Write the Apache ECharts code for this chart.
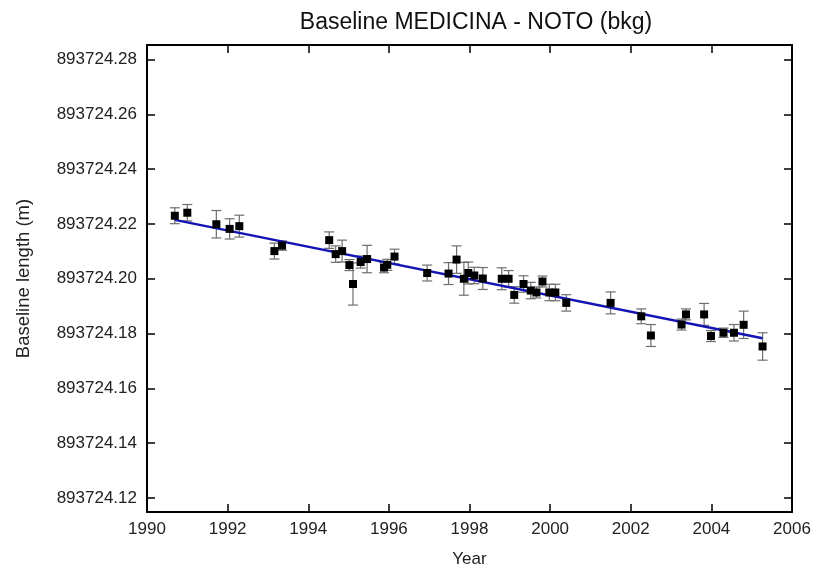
<!DOCTYPE html>
<html>
<head>
<meta charset="utf-8">
<script src="https://cdn.jsdelivr.net/npm/echarts@6/dist/echarts.min.js"></script>
<style>html,body{margin:0;padding:0;background:#fff}#c{width:813px;height:567px}</style>
</head>
<body>
<div id="c"></div>
<script>
var years = [1990.69, 1991.00, 1991.72, 1992.05, 1992.29, 1993.16, 1993.35, 1994.52, 1994.68, 1994.84, 1995.02, 1995.11, 1995.30, 1995.46, 1995.88, 1995.96, 1996.14, 1996.95, 1997.48, 1997.68, 1997.86, 1997.97, 1998.12, 1998.33, 1998.80, 1998.97, 1999.11, 1999.34, 1999.52, 1999.66, 1999.81, 1999.98, 2000.13, 2000.40, 2001.50, 2002.26, 2002.50, 2003.26, 2003.37, 2003.82, 2003.99, 2004.30, 2004.56, 2004.80, 2005.27];
var lengths = [893724.2230, 893724.2241, 893724.2199, 893724.2182, 893724.2192, 893724.2101, 893724.2121, 893724.2141, 893724.2090, 893724.2101, 893724.2050, 893724.1981, 893724.2061, 893724.2072, 893724.2041, 893724.2051, 893724.2081, 893724.2021, 893724.2019, 893724.2070, 893724.2000, 893724.2021, 893724.2012, 893724.2001, 893724.2000, 893724.2000, 893724.1941, 893724.1981, 893724.1957, 893724.1950, 893724.1990, 893724.1950, 893724.1950, 893724.1912, 893724.1912, 893724.1863, 893724.1793, 893724.1833, 893724.1870, 893724.1870, 893724.1791, 893724.1803, 893724.1803, 893724.1832, 893724.1753];
var errors = [0.0029, 0.0030, 0.0050, 0.0037, 0.0040, 0.0029, 0.0017, 0.0030, 0.0030, 0.0040, 0.0020, 0.0077, 0.0022, 0.0050, 0.0019, 0.0020, 0.0027, 0.0029, 0.0040, 0.0050, 0.0060, 0.0040, 0.0030, 0.0040, 0.0040, 0.0030, 0.0030, 0.0030, 0.0030, 0.0020, 0.0020, 0.0030, 0.0030, 0.0030, 0.0040, 0.0027, 0.0040, 0.0020, 0.0020, 0.0040, 0.0020, 0.0017, 0.0030, 0.0050, 0.0050];
var fitYears = [1990.69, 2005.27];
var fitValues = [893724.2215, 893724.1783];
var yTickValues = [893724.12, 893724.14, 893724.16, 893724.18, 893724.20, 893724.22, 893724.24, 893724.26, 893724.28];
var xTickLabels = [1990, 1992, 1994, 1996, 1998, 2000, 2002, 2004, 2006];

var FONT = 'Liberation Sans';
var chart = echarts.init(document.getElementById('c'), null, {renderer: 'canvas'});

var pts = years.map(function (y, i) { return [y, lengths[i]]; });
var errData = years.map(function (y, i) { return [y, lengths[i] - errors[i], lengths[i] + errors[i]]; });
var fitData = fitYears.map(function (y, i) { return [y, fitValues[i]]; });

var axisLine = {show: true, lineStyle: {color: '#000', width: 2}};
var tick = {show: true, inside: true, length: 8, lineStyle: {color: '#000', width: 1.5}};

chart.setOption({
  animation: false,
  backgroundColor: '#fff',
  title: {
    text: 'Baseline MEDICINA - NOTO (bkg)',
    left: 471, top: 6, textAlign: 'center',
    textStyle: {fontFamily: FONT, fontSize: 23, fontWeight: 'normal', color: '#111'}
  },
  grid: {left: 147, right: 21, top: 45, bottom: 55, containLabel: false, outerBoundsMode: 'none'},
  xAxis: [{
    type: 'value', min: xTickLabels[0], max: xTickLabels[xTickLabels.length - 1], interval: 2,
    position: 'bottom',
    name: 'Year', nameLocation: 'middle', nameGap: 39,
    nameTextStyle: {fontFamily: FONT, fontSize: 17, color: '#222'},
    axisLine: axisLine, axisTick: tick, splitLine: {show: false},
    axisLabel: {fontFamily: FONT, fontSize: 17, color: '#222', margin: 9, formatter: function (v) { return String(Math.round(v)); }}
  }, {
    type: 'value', min: xTickLabels[0], max: xTickLabels[xTickLabels.length - 1], interval: 2,
    position: 'top',
    axisLine: axisLine, axisTick: tick, splitLine: {show: false}, axisLabel: {show: false}
  }],
  yAxis: [{
    type: 'value', min: 893724.1149, max: 893724.2853,
    position: 'left',
    name: 'Baseline length (m)', nameLocation: 'middle', nameGap: 114, nameRotate: 90,
    nameTextStyle: {fontFamily: FONT, fontSize: 18.5, color: '#222'},
    axisLine: axisLine, splitLine: {show: false},
    axisTick: {show: true, inside: true, length: 8, lineStyle: {color: '#000', width: 1.5}, customValues: yTickValues},
    axisLabel: {fontFamily: FONT, fontSize: 17, color: '#222', margin: 10, customValues: yTickValues,
      formatter: function (v) { return Number(v).toFixed(2); }}
  }, {
    type: 'value', min: 893724.1149, max: 893724.2853,
    position: 'right',
    axisLine: axisLine, splitLine: {show: false},
    axisTick: {show: true, inside: true, length: 8, lineStyle: {color: '#000', width: 1.5}, customValues: yTickValues},
    axisLabel: {show: false}
  }],
  series: [{
    type: 'custom',
    xAxisIndex: 0, yAxisIndex: 0,
    data: errData,
    z: 2,
    renderItem: function (params, api) {
      var x = api.value(0);
      var lo = api.coord([x, api.value(1)]);
      var hi = api.coord([x, api.value(2)]);
      var hw = 5;
      var st = {stroke: '#6e6e6e', lineWidth: 1.2};
      return {
        type: 'group',
        children: [
          {type: 'line', shape: {x1: lo[0], y1: lo[1], x2: hi[0], y2: hi[1]}, style: st},
          {type: 'line', shape: {x1: lo[0] - hw, y1: lo[1], x2: lo[0] + hw, y2: lo[1]}, style: st},
          {type: 'line', shape: {x1: hi[0] - hw, y1: hi[1], x2: hi[0] + hw, y2: hi[1]}, style: st}
        ]
      };
    }
  }, {
    type: 'line',
    data: fitData,
    symbol: 'none',
    z: 3,
    lineStyle: {color: '#1414b4', width: 2.5}
  }, {
    type: 'scatter',
    data: pts,
    symbol: 'rect',
    symbolSize: 8,
    z: 4,
    itemStyle: {color: '#000', opacity: 1}
  }]
});
</script>
</body>
</html>
